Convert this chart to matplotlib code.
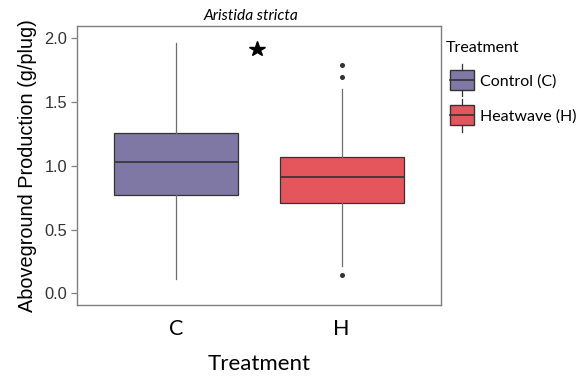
import matplotlib
matplotlib.use("Agg")
import matplotlib.pyplot as plt
from matplotlib.patches import Rectangle
from matplotlib.lines import Line2D
from matplotlib.legend_handler import HandlerBase

# ---- data ----
categories = ["C", "H"]
legend_labels = ["Control (C)", "Heatwave (H)"]
medians = [1.027, 0.909]
q1 = [0.770, 0.705]
q3 = [1.259, 1.071]
whisker_low = [0.115, 0.217]
whisker_high = [1.965, 1.605]
outliers = [[], [1.788, 1.694, 0.144]]
star_pos = (1.49, 1.916)
colors = ["#8078A4", "#E4565B"]
yticks = [0.0, 0.5, 1.0, 1.5, 2.0]

EDGE = "#333333"
AXC = "#7F7F7F"

fig = plt.figure(figsize=(5.87, 3.77), dpi=100)
ax = fig.add_axes([77/587, 1-305/377, (441-77)/587, (305-26)/377])

stats = []
for i in range(len(categories)):
    stats.append(dict(med=medians[i], q1=q1[i], q3=q3[i],
                      whislo=whisker_low[i], whishi=whisker_high[i],
                      fliers=outliers[i], label=categories[i]))
bp = ax.bxp(stats, positions=[1, 2], widths=0.75, patch_artist=True,
            showcaps=False,
            boxprops=dict(edgecolor=EDGE, linewidth=0.9),
            medianprops=dict(color=EDGE, linewidth=1.2),
            whiskerprops=dict(color="#6E6E6E", linewidth=0.9),
            flierprops=dict(marker="o", markersize=2.6, markerfacecolor="#333333",
                            markeredgecolor="#333333", linestyle="none"))
for patch, c in zip(bp["boxes"], colors):
    patch.set_facecolor(c)

ax.plot([star_pos[0]], [star_pos[1]], marker="*", markersize=11.5, color="black", linestyle="none")

ax.set_xlim(0.4, 2.6)
ax.set_ylim(-0.092, 2.097)
ax.set_yticks(yticks)
ax.set_yticklabels([f"{v:.1f}" for v in yticks], fontfamily="Liberation Sans", fontsize=11.8, color="#333333")
ax.set_xticks([1, 2])
ax.set_xticklabels(categories, fontfamily="Lato", fontsize=15.5, color="black")
for s in ax.spines.values():
    s.set_color(AXC)
    s.set_linewidth(1.0)
ax.tick_params(axis="y", colors=AXC, length=4, width=0.9, pad=3, labelcolor="#333333")
ax.tick_params(axis="x", length=0, pad=10, labelcolor="black")

ax.set_ylabel("Aboveground Production (g/plug)", fontfamily="Liberation Sans", fontsize=14.3, labelpad=5)
ax.set_xlabel("Treatment", fontfamily="Lato", fontsize=16, labelpad=11)
ax.set_title("Aristida stricta", fontfamily="Lato", style="italic", fontsize=11.2, pad=4, x=0.478)


class BoxHandler(HandlerBase):
    def create_artists(self, legend, orig_handle, xdescent, ydescent, width, height, fontsize, trans):
        c = orig_handle.get_facecolor()
        x0 = -xdescent + 3
        w = width - 3
        y0 = -ydescent
        rect = Rectangle((x0, y0), w, height, facecolor=c,
                         edgecolor=EDGE, linewidth=1.0, transform=trans)
        mid = Line2D([x0, x0 + w], [y0 + height/2]*2,
                     color=EDGE, linewidth=1.2, transform=trans)
        cx = x0 + w/2
        top = Line2D([cx, cx], [y0 + height, y0 + height + 4.5], color=EDGE, linewidth=0.9, transform=trans)
        bot = Line2D([cx, cx], [y0 - 4.5, y0], color=EDGE, linewidth=0.9, transform=trans)
        return [rect, mid, top, bot]

handles = [Rectangle((0, 0), 1, 1, facecolor=c) for c in colors]
leg = fig.legend(handles, legend_labels, handler_map={Rectangle: BoxHandler()},
                 loc="upper left", bbox_to_anchor=(446/587, 1-41/377),
                 frameon=False, title="Treatment", alignment="left",
                 prop=dict(family="Lato", size=11.5), title_fontproperties=dict(family="Lato", size=11.5),
                 handlelength=1.75, handleheight=1.55, handletextpad=0.35, labelspacing=0.95,
                 borderpad=0, borderaxespad=0)

fig.savefig("out.png", dpi=100)
